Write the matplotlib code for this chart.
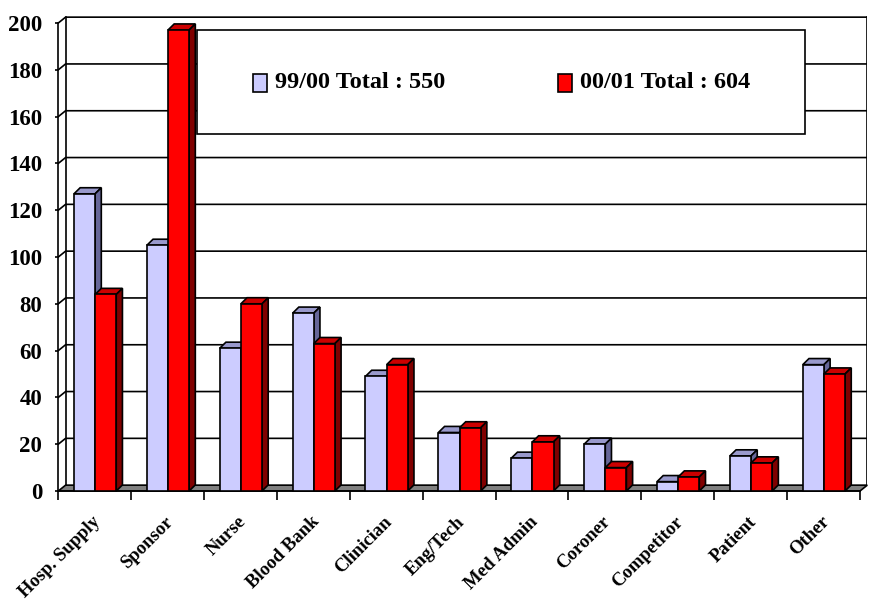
import numpy as np
import matplotlib.pyplot as plt
from matplotlib.patches import Polygon, Rectangle

plt.rcParams['font.family'] = ['Liberation Serif', 'DejaVu Serif']
plt.rcParams['font.weight'] = 'bold'

categories = ["Hosp. Supply", "Sponsor", "Nurse", "Blood Bank", "Clinician",
              "Eng/Tech", "Med Admin", "Coroner", "Competitor", "Patient", "Other"]
year_9900 = [127, 105, 61, 76, 49, 25, 14, 20, 4, 15, 54]
year_0001 = [84, 197, 80, 63, 54, 27, 21, 10, 6, 12, 50]
series_names = ["99/00", "00/01"]
y_ticks = list(range(0, 201, 20))

# 3d look: depth of the floor/walls and of each bar, in data units
DX, DY = 0.1, 2.5
BDX, BDY = 0.085, 2.6
BAR_W = 0.29
OFFSETS = [0.215, 0.505]
FACES = [("#CCCCFF", "#9999CC", "#666699"),
         ("#FF0000", "#CC0000", "#800000")]
LW = 1.2

n = len(categories)
YMAX = 205

fig = plt.figure(figsize=(8.75, 6.03), dpi=100)
px_cat = (860 - 58.3) / n
ax = fig.add_axes([58.3 / 875, 112 / 603, (n + DX) * px_cat / 875, YMAX * 2.34 / 603])
ax.set_xlim(0, n + DX)
ax.set_ylim(0, YMAX)

# walls and gridlines
for v in y_ticks[1:]:
    ax.plot([0, DX, n + DX], [v, v + DY, v + DY], color="black", lw=LW, zorder=1)
ax.plot([DX, DX], [DY, y_ticks[-1] + DY], color="black", lw=LW, zorder=1)
ax.plot([n + DX, n + DX], [DY, y_ticks[-1] + DY], color="black", lw=LW, zorder=1)

floor = Polygon([(0, 0), (n, 0), (n + DX, DY), (DX, DY)], closed=True,
                facecolor="#808080", edgecolor="black", lw=LW, zorder=2, clip_on=False)
ax.add_patch(floor)

x = np.arange(n)
for s, vals in enumerate([year_9900, year_0001]):
    front, top, side = FACES[s]
    for i, h in enumerate(vals):
        x0 = x[i] + OFFSETS[s]
        x1 = x0 + BAR_W
        z = 3 + i * 2 + s
        ax.add_patch(Polygon([(x0, h), (x1, h), (x1 + BDX, h + BDY), (x0 + BDX, h + BDY)],
                             closed=True, facecolor=top, edgecolor="black", lw=LW,
                             zorder=z, clip_on=False))
        ax.add_patch(Polygon([(x1, 0), (x1 + BDX, BDY), (x1 + BDX, h + BDY), (x1, h)],
                             closed=True, facecolor=side, edgecolor="black", lw=LW,
                             zorder=z, clip_on=False))
        ax.bar(x0, h, width=BAR_W, align="edge", color=front, edgecolor="black",
               lw=LW, zorder=z, clip_on=False)

# axes / ticks
for sp in ["top", "right"]:
    ax.spines[sp].set_visible(False)
ax.spines["left"].set_bounds(0, y_ticks[-1])
ax.spines["bottom"].set_bounds(0, n)
ax.spines["left"].set_zorder(1)
ax.spines["bottom"].set_zorder(2)
ax.spines["left"].set_linewidth(LW)
ax.spines["bottom"].set_linewidth(LW)

ax.set_yticks(y_ticks)
ax.set_yticklabels([str(v) for v in y_ticks], fontsize=16.5, fontweight="bold")
ax.tick_params(axis="y", direction="out", length=2.5, width=LW, pad=9)

ax.set_xticks(np.arange(n + 1))
ax.set_xticklabels([])
ax.tick_params(axis="x", which="major", direction="out", length=6.5, width=LW)
ax.set_xticks(x + 0.46, minor=True)
ax.set_xticklabels(categories, minor=True, rotation=45, ha="right",
                   rotation_mode="anchor", fontsize=13.5, fontweight="bold")
ax.tick_params(axis="x", which="minor", length=0, pad=16)

# legend box
box = Rectangle((197 / 875, 1 - 134 / 603), 608 / 875, 104 / 603, transform=fig.transFigure,
                facecolor="white", edgecolor="black", lw=LW, zorder=5)
fig.add_artist(box)
totals = [sum(year_9900), sum(year_0001)]
for k, (name, tot) in enumerate(zip(series_names, totals)):
    lx = [252.7, 557.7][k]
    sq = Rectangle((lx / 875, 1 - 91.7 / 603), 14 / 875, 18 / 603, transform=fig.transFigure,
                   facecolor=FACES[k][0], edgecolor="black", lw=LW, zorder=6)
    fig.add_artist(sq)
    fig.text((lx + 22) / 875, 1 - 83 / 603, f"{name} Total : {tot}", fontsize=17.5,
             fontweight="bold", va="center", ha="left", zorder=6)

fig.savefig("out.png", dpi=100)
